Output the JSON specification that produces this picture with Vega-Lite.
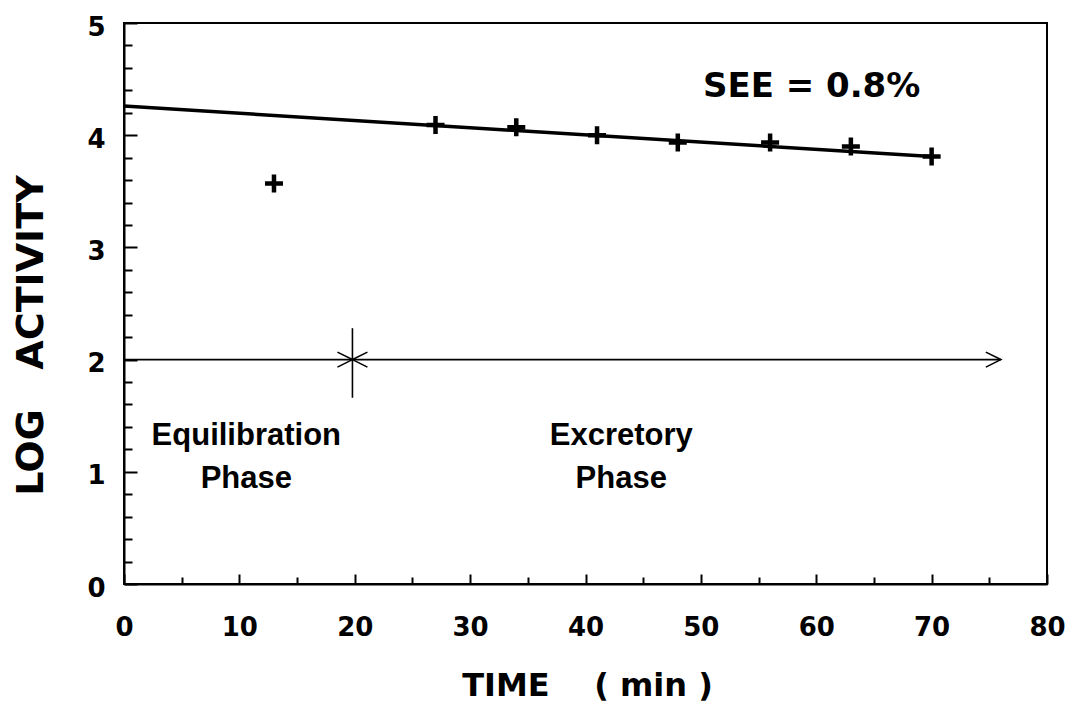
{
  "$schema": "https://vega.github.io/schema/vega-lite/v6.json",
  "width": 923,
  "height": 561,
  "autosize": {"type": "none"},
  "padding": {"left": 124, "top": 23, "right": 19, "bottom": 129},
  "background": "white",
  "config": {
    "view": {"stroke": "black", "strokeWidth": 2},
    "axis": {"grid": false, "domainColor": "black", "tickColor": "black", "labelColor": "black", "titleColor": "black"}
  },
  "datasets": {
    "points": [
      {"time": 13, "activity": 3.57},
      {"time": 27, "activity": 4.09},
      {"time": 34, "activity": 4.07},
      {"time": 41, "activity": 4.0},
      {"time": 48, "activity": 3.935},
      {"time": 56, "activity": 3.935},
      {"time": 63, "activity": 3.9},
      {"time": 70, "activity": 3.81}
    ],
    "fit": [
      {"time": 0, "activity": 4.26},
      {"time": 70, "activity": 3.81}
    ],
    "phaseLine": [{"from": 0, "to": 76, "level": 2}],
    "divider": [{"time": 19.8, "low": 1.66, "high": 2.28}],
    "arrowheads": [
      {"time": 19.8, "level": 2, "dir": "right"},
      {"time": 19.8, "level": 2, "dir": "left"},
      {"time": 76, "level": 2, "dir": "right"}
    ],
    "phases": [
      {"time": 10.6, "level": 1.24, "text": "Equilibration"},
      {"time": 10.6, "level": 0.856, "text": "Phase"},
      {"time": 43.1, "level": 1.24, "text": "Excretory"},
      {"time": 43.1, "level": 0.856, "text": "Phase"}
    ],
    "stat": [{"time": 59.6, "level": 4.34, "text": "SEE = 0.8%"}]
  },
  "resolve": {"axis": {"x": "independent", "y": "independent"}},
  "layer": [
    {
      "data": {"name": "points"},
      "mark": {"type": "point", "shape": "M-1,0L1,0M0,-1L0,1", "size": 324, "filled": false, "stroke": "black", "strokeWidth": 4.5, "opacity": 1},
      "encoding": {
        "x": {
          "field": "time", "type": "quantitative",
          "scale": {"domain": [0, 80], "nice": false, "zero": false},
          "axis": {
            "orient": "bottom", "values": [0, 10, 20, 30, 40, 50, 60, 70, 80],
            "tickSize": -10, "tickWidth": 2, "domainWidth": 2,
            "labelFont": "DejaVu Sans", "labelFontWeight": 900, "labelFontSize": 26, "labelPadding": 40,
            "labelBaseline": "top", "labelFlush": false,
            "title": "TIME\u00a0\u00a0\u00a0\u00a0(\u00a0min\u00a0)", "titleFont": "DejaVu Sans", "titleFontWeight": "bold", "titleFontSize": 32,
            "titleBaseline": "alphabetic", "titleY": 111, "titleX": 463
          }
        },
        "y": {
          "field": "activity", "type": "quantitative",
          "scale": {"domain": [0, 5], "nice": false, "zero": false},
          "axis": {
            "orient": "left", "values": [0, 1, 2, 3, 4, 5],
            "tickSize": -13, "tickWidth": 2, "domainWidth": 2,
            "labelFont": "DejaVu Sans", "labelFontWeight": 900, "labelFontSize": 26, "labelPadding": 32,
            "labelBaseline": "middle", "labelOffset": 4, "labelFlush": false,
            "title": "LOG\u00a0\u00a0\u00a0ACTIVITY", "titleFont": "DejaVu Sans", "titleFontWeight": "bold", "titleFontSize": 38,
            "titleBaseline": "alphabetic", "titleAngle": 270, "titleX": -82, "titleY": 312
          }
        }
      }
    },
    {
      "data": {"name": "fit"},
      "mark": {"type": "line", "color": "black", "strokeWidth": 3.5},
      "encoding": {
        "x": {
          "field": "time", "type": "quantitative",
          "scale": {"domain": [0, 80], "nice": false, "zero": false},
          "axis": {
            "orient": "bottom", "values": [5, 15, 25, 35, 45, 55, 65, 75],
            "tickSize": -7, "tickWidth": 2, "labels": false, "domain": false, "title": null
          }
        },
        "y": {
          "field": "activity", "type": "quantitative",
          "scale": {"domain": [0, 5], "nice": false, "zero": false},
          "axis": {
            "orient": "left",
            "values": [0.2, 0.4, 0.6, 0.8, 1.2, 1.4, 1.6, 1.8, 2.2, 2.4, 2.6, 2.8, 3.2, 3.4, 3.6, 3.8, 4.2, 4.4, 4.6, 4.8],
            "tickSize": -8, "tickWidth": 2, "labels": false, "domain": false, "title": null
          }
        }
      }
    },
    {
      "data": {"name": "phaseLine"},
      "mark": {"type": "rule", "color": "black", "strokeWidth": 1.6},
      "encoding": {
        "x": {"field": "from", "type": "quantitative", "scale": {"domain": [0, 80], "nice": false, "zero": false}, "axis": null},
        "x2": {"field": "to"},
        "y": {"field": "level", "type": "quantitative", "scale": {"domain": [0, 5], "nice": false, "zero": false}, "axis": null}
      }
    },
    {
      "data": {"name": "divider"},
      "mark": {"type": "rule", "color": "black", "strokeWidth": 1.6},
      "encoding": {
        "x": {"field": "time", "type": "quantitative", "scale": {"domain": [0, 80], "nice": false, "zero": false}, "axis": null},
        "y": {"field": "low", "type": "quantitative", "scale": {"domain": [0, 5], "nice": false, "zero": false}, "axis": null},
        "y2": {"field": "high"}
      }
    },
    {
      "data": {"name": "arrowheads"},
      "mark": {"type": "point", "filled": false, "stroke": "black", "strokeWidth": 1.6, "size": 225, "opacity": 1},
      "encoding": {
        "x": {"field": "time", "type": "quantitative", "scale": {"domain": [0, 80], "nice": false, "zero": false}, "axis": null},
        "y": {"field": "level", "type": "quantitative", "scale": {"domain": [0, 5], "nice": false, "zero": false}, "axis": null},
        "shape": {"field": "dir", "type": "nominal", "scale": {"domain": ["right", "left"], "range": ["M-2,-1L0,0L-2,1", "M2,-1L0,0L2,1"]}, "legend": null}
      }
    },
    {
      "data": {"name": "phases"},
      "mark": {"type": "text", "font": "Liberation Sans", "fontWeight": "bold", "fontSize": 31, "align": "center", "baseline": "alphabetic", "color": "black"},
      "encoding": {
        "x": {"field": "time", "type": "quantitative", "scale": {"domain": [0, 80], "nice": false, "zero": false}, "axis": null},
        "y": {"field": "level", "type": "quantitative", "scale": {"domain": [0, 5], "nice": false, "zero": false}, "axis": null},
        "text": {"field": "text"}
      }
    },
    {
      "data": {"name": "stat"},
      "mark": {"type": "text", "font": "DejaVu Sans", "fontWeight": "bold", "fontSize": 34, "align": "center", "baseline": "alphabetic", "color": "black"},
      "encoding": {
        "x": {"field": "time", "type": "quantitative", "scale": {"domain": [0, 80], "nice": false, "zero": false}, "axis": null},
        "y": {"field": "level", "type": "quantitative", "scale": {"domain": [0, 5], "nice": false, "zero": false}, "axis": null},
        "text": {"field": "text"}
      }
    }
  ]
}
